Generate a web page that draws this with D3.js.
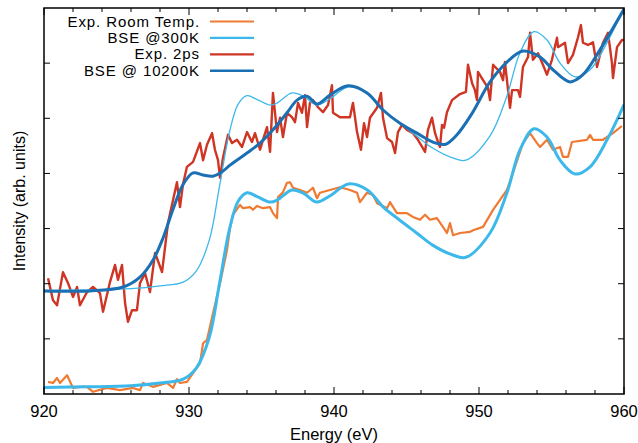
<!DOCTYPE html>
<html>
<head>
<meta charset="utf-8">
<script src="https://cdn.jsdelivr.net/npm/d3@7"></script>
<style>
  body { margin: 0; background: #fff; }
  svg { display: block; font-family: 'Liberation Sans', Arial, sans-serif; }
</style>
</head>
<body>
<div id="chart"></div>
<script>
// x tick labels and y tick positions (no y labels)
const xTicks = [920, 930, 940, 950, 960];
const yTicks = [1, 2, 3, 4, 5, 6];

// Exp. Room Temp. [energy, intensity]
const roomTemp = [
  [920.28,0.22],[920.62,0.2],[920.9,0.29],[921.1,0.2],[921.59,0.34],[922.0,0.11],[922.48,0.13],
  [922.97,0.13],[923.38,0.04],[924.34,0.11],[925.24,0.07],[926.14,0.11],[926.62,0.07],[926.83,0.2],
  [927.52,0.13],[928.48,0.2],[928.9,0.11],[929.17,0.27],[929.38,0.2],[929.86,0.22],[930.28,0.38],
  [930.76,0.56],[930.97,0.92],[931.24,0.98],[931.66,1.47],[932.14,2.01],[932.62,2.61],[932.83,3.01],
  [933.03,3.25],[933.52,3.43],[933.72,3.37],[934.21,3.39],[934.41,3.34],[934.69,3.41],[935.1,3.37],
  [935.59,3.39],[935.79,3.28],[936.07,3.19],[936.14,3.57],[936.48,3.66],[936.76,3.83],[936.97,3.84],
  [937.17,3.74],[937.66,3.7],[938.14,3.65],[938.55,3.74],[938.83,3.55],[939.03,3.65],[939.72,3.7],
  [940.41,3.75],[941.1,3.7],[941.59,3.65],[941.79,3.48],[942.28,3.65],[942.69,3.61],[942.97,3.46],
  [943.66,3.37],[943.86,3.48],[944.34,3.28],[945.03,3.28],[945.45,3.21],[945.93,3.16],[946.28,3.25],
  [946.62,3.16],[947.1,3.19],[947.79,2.92],[948.0,3.1],[948.21,2.88],[948.69,2.92],[949.38,2.94],
  [949.59,2.97],[950.28,3.03],[950.97,3.34],[951.93,3.7],[952.34,4.01],[953.03,4.55],[953.52,4.73],
  [954.0,4.55],[954.21,4.48],[954.69,4.61],[955.1,4.43],[955.59,4.48],[955.79,4.3],[956.14,4.3],
  [956.41,4.57],[957.45,4.61],[957.66,4.7],[957.86,4.61],[958.55,4.61],[959.24,4.73],[959.86,4.86]
];

// BSE @300K
const bse300 = [
  [920,0.12],[923,0.13],[926,0.15],[928,0.2],[929.6,0.27],[930.5,0.47],[931.4,1.03],[932.1,2.0],
  [932.8,3.0],[933.4,3.5],[934.0,3.65],[934.7,3.58],[935.6,3.48],[936.1,3.52],[937.1,3.7],[937.9,3.64],
  [938.8,3.48],[939.7,3.59],[941.0,3.81],[942.3,3.7],[943.4,3.39],[944.5,3.16],[945.7,2.92],[946.8,2.7],
  [948.2,2.52],[949.1,2.48],[950.76,2.92],[951.93,3.65],[952.83,4.43],[953.79,4.81],[954.69,4.66],
  [955.59,4.24],[956.62,3.99],[957.66,4.12],[958.83,4.61],[960,5.25]
];
// vertical offset of the thin BSE @300K copy drawn against the 2ps data
const bse300Shift = 1.76;

// Exp. 2ps
const exp2ps = [
  [920.28,2.1],[920.62,1.7],[920.9,1.61],[921.31,2.21],[921.66,2.01],[922.0,1.76],[922.28,1.94],
  [922.48,1.61],[922.97,1.85],[923.38,1.94],[923.86,1.83],[924.07,1.49],[924.55,2.03],[924.9,2.34],
  [925.1,2.07],[925.38,2.34],[925.59,1.65],[925.79,1.31],[926.07,1.52],[926.41,1.52],[926.62,2.01],
  [926.97,2.19],[927.31,1.85],[927.66,2.56],[928.14,2.21],[928.55,3.1],[928.9,3.52],[929.17,3.84],
  [929.38,3.39],[929.59,3.81],[929.86,4.12],[930.28,4.21],[930.76,4.55],[930.97,4.24],[931.24,4.52],
  [931.59,4.73],[931.79,4.43],[932.0,4.24],[932.14,3.92],[932.34,4.28],[932.69,4.7],[932.97,4.55],
  [933.31,4.61],[933.66,4.48],[934.0,4.75],[934.34,4.57],[934.55,4.73],[934.9,4.43],[935.1,4.61],
  [935.38,4.84],[935.59,4.39],[935.79,5.46],[936.07,4.75],[936.28,5.01],[936.48,4.66],[936.76,5.1],
  [937.1,5.02],[937.31,4.93],[937.52,5.28],[937.79,5.1],[938.0,5.42],[938.14,4.84],[938.34,5.28],
  [938.55,5.33],[938.9,5.2],[939.24,5.11],[939.59,5.24],[939.86,5.6],[939.93,5.1],[940.41,5.02],
  [941.1,5.02],[941.31,5.28],[941.59,4.75],[941.86,4.43],[942.07,4.91],[942.28,4.66],[942.48,5.01],
  [942.97,5.19],[943.24,5.46],[943.38,5.01],[943.66,4.64],[944.0,4.57],[944.21,4.37],[944.41,4.75],
  [944.69,4.88],[945.03,4.79],[945.45,4.73],[945.79,4.61],[946.28,4.39],[946.48,4.79],[946.76,5.01],
  [946.97,4.73],[947.17,4.57],[947.31,4.48],[947.45,4.88],[947.59,4.83],[947.79,5.11],[948.14,5.33],
  [948.69,5.44],[949.1,5.48],[949.24,5.97],[949.52,5.64],[949.72,5.51],[949.86,5.33],[949.93,5.84],
  [950.28,5.69],[950.62,5.55],[950.76,5.33],[950.97,5.97],[951.45,5.84],[951.66,5.69],[951.79,6.02],
  [952.14,5.19],[952.28,5.51],[952.69,5.51],[952.83,5.39],[953.03,5.93],[953.38,6.11],[953.52,6.55],
  [953.72,6.06],[954.07,6.18],[954.41,5.97],[954.69,5.79],[955.03,6.06],[955.38,6.46],[955.45,6.29],
  [955.93,6.37],[956.14,6.0],[956.48,6.15],[956.83,6.47],[957.03,6.69],[957.17,6.37],[957.52,6.33],
  [957.86,6.38],[958.14,5.93],[958.34,6.15],[958.55,6.37],[958.9,6.55],[959.17,6.0],[959.24,5.73],
  [959.52,6.29],[959.86,6.42],[960,6.42]
];

// BSE @ 10200K
const bse10200 = [
  [920,1.87],[923.17,1.87],[925.45,1.94],[926.62,2.12],[927.52,2.43],[928.21,2.83],[928.9,3.35],
  [929.59,3.8],[930.28,4.01],[930.97,3.97],[931.66,3.95],[932.28,4.03],[932.83,4.15],[934.0,4.37],
  [934.9,4.55],[935.79,4.79],[936.76,5.1],[937.45,5.33],[938.14,5.4],[938.83,5.26],[939.72,5.42],
  [940.97,5.59],[942.28,5.46],[943.38,5.15],[944.55,4.91],[945.72,4.73],[946.9,4.56],[947.7,4.53],
  [948.48,4.7],[949.5,5.08],[950.76,5.66],[951.93,6.02],[953.03,6.22],[954.21,6.11],[955.1,5.88],
  [956.28,5.66],[957.17,5.79],[958.34,6.24],[960,6.98]
];

const legendItems = [
  {label: 'Exp. Room Temp.', color: '#f07a32', width: 2.2},
  {label: 'BSE @300K', color: '#3cb8ea', width: 2.2},
  {label: 'Exp. 2ps', color: '#cf3524', width: 2.2},
  {label: 'BSE @ 10200K', color: '#1b6fb3', width: 2.6}
];

const W = 638, H = 443;
const margin = {top: 8, right: 14, bottom: 49, left: 44};

const svg = d3.select('#chart').append('svg')
  .attr('width', W).attr('height', H);

const x = d3.scaleLinear().domain([920, 960]).range([margin.left, W - margin.right]);
const y = d3.scaleLinear().domain([0, 7]).range([H - margin.bottom, margin.top]);

svg.append('defs').append('clipPath').attr('id', 'plotClip')
  .append('rect')
  .attr('x', margin.left).attr('y', margin.top)
  .attr('width', x(960) - x(920)).attr('height', y(0) - y(7));

const line = d3.line()
  .x(d => x(d[0]))
  .y(d => y(d[1]));
const smooth = d3.line()
  .x(d => x(d[0]))
  .y(d => y(d[1]))
  .curve(d3.curveCatmullRom.alpha(0.5));

const plot = svg.append('g').attr('clip-path', 'url(#plotClip)');

// order of drawing: experiments under theory lines
plot.append('path').datum(roomTemp)
  .attr('d', line).attr('fill', 'none')
  .attr('stroke', legendItems[0].color).attr('stroke-width', 2.2)
  .attr('stroke-linejoin', 'round');

plot.append('path').datum(bse300)
  .attr('d', smooth).attr('fill', 'none')
  .attr('stroke', legendItems[1].color).attr('stroke-width', 3);

plot.append('path').datum(exp2ps)
  .attr('d', line).attr('fill', 'none')
  .attr('stroke', legendItems[2].color).attr('stroke-width', 2.4)
  .attr('stroke-linejoin', 'round');

plot.append('path').datum(bse300.map(d => [d[0], d[1] + bse300Shift]))
  .attr('d', smooth).attr('fill', 'none')
  .attr('stroke', legendItems[1].color).attr('stroke-width', 1.3);

plot.append('path').datum(bse10200)
  .attr('d', smooth).attr('fill', 'none')
  .attr('stroke', legendItems[3].color).attr('stroke-width', 3);

// AXES: box with inward mirrored ticks
const axisG = svg.append('g');
const x0 = x(920), x1 = x(960), y0 = y(0), y1 = y(7);

const minorX = d3.range(920, 960.01, 2);
minorX.forEach(v => {
  const major = v % 10 === 0;
  const len = major ? 7 : 4;
  axisG.append('line').attr('x1', x(v)).attr('x2', x(v))
    .attr('y1', y0).attr('y2', y0 - len).attr('stroke', '#000').attr('stroke-width', 1);
  axisG.append('line').attr('x1', x(v)).attr('x2', x(v))
    .attr('y1', y1).attr('y2', y1 + len).attr('stroke', '#000').attr('stroke-width', 1);
});
yTicks.forEach(v => {
  axisG.append('line').attr('x1', x0).attr('x2', x0 + 6)
    .attr('y1', y(v)).attr('y2', y(v)).attr('stroke', '#000').attr('stroke-width', 1);
  axisG.append('line').attr('x1', x1).attr('x2', x1 - 6)
    .attr('y1', y(v)).attr('y2', y(v)).attr('stroke', '#000').attr('stroke-width', 1);
});

axisG.append('rect')
  .attr('x', x0).attr('y', y1)
  .attr('width', x1 - x0).attr('height', y0 - y1)
  .attr('fill', 'none').attr('stroke', '#000').attr('stroke-width', 1.5);

svg.append('g').selectAll('text.xt')
  .data(xTicks).join('text')
  .attr('x', d => x(d)).attr('y', y0 + 23)
  .attr('text-anchor', 'middle')
  .style('font-size', '16.5px')
  .text(d => d);

svg.append('text')
  .attr('x', (x0 + x1) / 2).attr('y', y0 + 46)
  .attr('text-anchor', 'middle')
  .style('font-size', '16.5px')
  .text('Energy (eV)');

svg.append('text')
  .attr('transform', `translate(25,${(y0 + y1) / 2}) rotate(-90)`)
  .attr('text-anchor', 'middle')
  .style('font-size', '16px')
  .text('Intensity (arb. units)');

// LEGEND
const legend = svg.append('g');
legendItems.forEach((d, i) => {
  const ly = 21.5 + i * 16.4;
  legend.append('text')
    .attr('x', 200).attr('y', ly + 5)
    .attr('text-anchor', 'end')
    .style('font-size', '15px')
    .style('letter-spacing', '0.9px')
    .text(d.label);
  legend.append('line')
    .attr('x1', 210).attr('x2', 254)
    .attr('y1', ly).attr('y2', ly)
    .attr('stroke', d.color).attr('stroke-width', d.width);
});
</script>
</body>
</html>
